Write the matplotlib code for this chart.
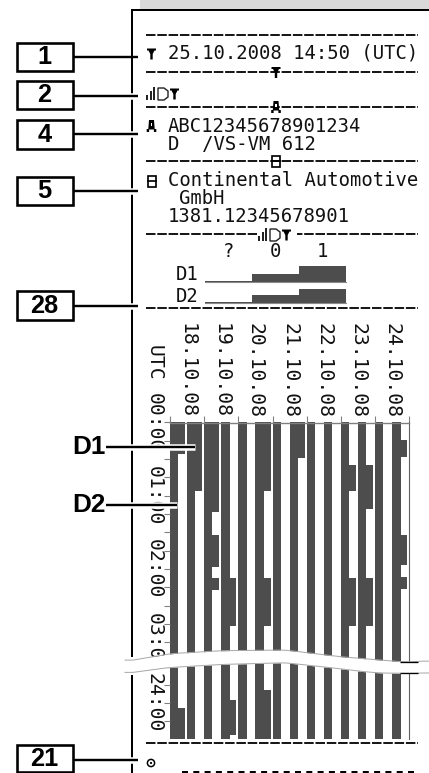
import numpy as np
import matplotlib
matplotlib.use("Agg")
import matplotlib.pyplot as plt
from matplotlib.patches import Rectangle, Polygon, Circle
from matplotlib.transforms import Bbox

plt.rcParams['lines.scale_dashes'] = False

# ---------- data ----------
DATE_LABELS = ["18.10.08", "19.10.08", "20.10.08", "21.10.08", "22.10.08", "23.10.08", "24.10.08"]
HOUR_TICKS_TOP = [0, 1, 2, 3]
HOUR_LABELS_TOP = ["00:00", "01:00", "02:00", "03:00"]
HOUR_TICKS_BOTTOM = [24]
HOUR_LABELS_BOTTOM = ["24:00"]

# intervals of the wide (level 1) state per column, two columns per day, in hours
WIDE_TOP = [
    [(0, 0.43)], [(0, 0.93)],
    [(0, 1.22), (1.53, 1.97), (2.12, 2.28)], [(2.12, 2.77)],
    [], [(0, 0.93), (2.12, 2.77)],
    [], [(0, 0.49)],
    [], [],
    [(0.58, 0.93), (2.12, 2.77)], [(0.58, 1.18), (2.12, 2.77)],
    [], [(0.24, 0.47), (1.53, 1.95), (2.11, 2.27)],
]
WIDE_BOTTOM = [
    [(24.06, 24.49)], [],
    [], [(23.95, 24.44)],
    [], [(23.82, 24.49)],
    [], [], [], [], [], [], [], [],
]
TOP_END_HOUR = 3.26
BOTTOM_START_HOUR = 23.43
BOTTOM_END_HOUR = 24.49

SUMMARY_CATEGORIES = ["?", "0", "1"]
SUMMARY_D1 = [0.12, 0.95, 2.0]
SUMMARY_D2 = [0.12, 0.9, 1.75]

DATE_LINE = "25.10.2008 14:50 (UTC)"
VEHICLE_ID = "ABC12345678901234"
VEHICLE_REG = "D  /VS-VM 612"
MAKER = "Continental Automotive"
MAKER_2 = "GmbH"
SERIAL = "1381.12345678901"

CALLOUTS = ["1", "2", "4", "5", "28", "21"]

# ---------- helpers ----------
W, H = 429, 773
BAR = "#4d4d4d"
MONO = "DejaVu Sans Mono"
fig = plt.figure(figsize=(W / 100, H / 100), dpi=100)
px = 0.72  # points per pixel


def rect(x0, y0, x1, y1):
    return [x0 / W, 1 - y1 / H, (x1 - x0) / W, (y1 - y0) / H]


ov = fig.add_axes([0, 0, 1, 1], zorder=5)
ov.set_xlim(0, W)
ov.set_ylim(H, 0)
ov.axis("off")
ov.patch.set_alpha(0)

# ---------- tachograph chart ----------
COL_NARROW, COL_WIDE = 0.243, 0.44


def draw_columns(ax, wide, start, end):
    for i, spans in enumerate(wide):
        x = i * 0.5
        ax.bar(x, end - start, COL_NARROW, bottom=start, align="edge", color=BAR, lw=0)
        for a, b in spans:
            ax.bar(x, b - a, COL_WIDE, bottom=a, align="edge", color=BAR, lw=0)
    ax.set_xlim(0, 7)
    ax.set_ylim(end, start)
    ax.patch.set_alpha(0)
    for s in ("top", "left", "bottom"):
        ax.spines[s].set_visible(False)
    ax.spines["right"].set_color("#606060")
    ax.spines["right"].set_linewidth(0.8)


Y0 = 422.5
DIV = 661.5
top = fig.add_axes(rect(170, Y0, 409.3, DIV))
draw_columns(top, WIDE_TOP, 0, TOP_END_HOUR)
bot = fig.add_axes(rect(170, DIV, 409.3, 739))
draw_columns(bot, WIDE_BOTTOM, BOTTOM_START_HOUR, BOTTOM_END_HOUR)
bot.set_xticks([])

top.spines["top"].set_visible(True)
top.spines["top"].set_color("#808080")
top.spines["top"].set_linewidth(1.0)
top.xaxis.tick_top()
top.set_xticks(np.arange(7) + 0.5)
top.set_xticklabels(DATE_LABELS, rotation=-90, family=MONO, fontsize=14.2, color="#111111")
top.tick_params(axis="x", which="major", length=0, pad=3.5)
top.set_xticks(np.arange(8), minor=True)
top.tick_params(axis="x", which="minor", length=5, color="#808080", width=0.8)

for ax, ticks, labels, lo, hi in ((top, HOUR_TICKS_TOP, HOUR_LABELS_TOP, 0, TOP_END_HOUR),
                                  (bot, HOUR_TICKS_BOTTOM, HOUR_LABELS_BOTTOM, BOTTOM_START_HOUR, BOTTOM_END_HOUR)):
    ax.set_yticks(ticks)
    ax.set_yticklabels(labels, rotation=-90, family=MONO, fontsize=14.2, color="#111111", va="center")
    ax.set_yticks(np.arange(np.ceil(lo * 4) / 4, hi, 0.25), minor=True)
    ax.tick_params(axis="y", which="both", length=4.5, width=0.8, color="#808080", pad=0)

# clip hour labels at the tear
for lab in top.get_yticklabels():
    lab.set_clip_on(True)
    lab.set_clip_box(Bbox([[0, H - 664], [W, H]]))
for lab in bot.get_yticklabels():
    lab.set_clip_on(True)
    lab.set_clip_box(Bbox([[0, 0], [W, H - 673]]))

ov.text(154.5, 362.5, "UTC", rotation=-90, family=MONO, fontsize=14.2, ha="center", va="center", color="#111111")

# ---------- daily summary bars ----------
for row, (vals, y0, y1, name, ytxt) in enumerate(((SUMMARY_D1, 262, 282, "D1", 275),
                                                  (SUMMARY_D2, 282.5, 302.5, "D2", 296))):
    a = fig.add_axes(rect(205, y0, 346, y1))
    a.bar(np.arange(3) + 0.5, vals, 1.0, color=[BAR, BAR, BAR], lw=0)
    a.set_xlim(0, 3)
    a.set_ylim(0, 2.5)
    a.patch.set_alpha(0)
    for s in ("top", "left", "right"):
        a.spines[s].set_visible(False)
    a.spines["bottom"].set_color("#8a8a8a")
    a.spines["bottom"].set_linewidth(0.8)
    a.set_yticks([])
    if row == 0:
        a.xaxis.tick_top()
        a.set_xticks(np.arange(3) + 0.5)
        a.set_xticklabels(SUMMARY_CATEGORIES, family=MONO, fontsize=13.6, color="#111111")
        a.tick_params(axis="x", length=0, pad=0.5)
    else:
        a.set_xticks([])
    ov.text(176, ytxt, name, family=MONO, fontsize=13.6, ha="left", va="center", color="#111111")

# ---------- header band and frame ----------
ov.add_patch(Rectangle((140, 0), W - 140, 9, fc="#d9d9d9", ec="none", zorder=0))
ov.plot([132, W], [10, 10], color="k", lw=2 * px, solid_capstyle="projecting", zorder=1)
ov.plot([132, 132], [10, 657], color="k", lw=2 * px, solid_capstyle="butt", zorder=1)
ov.plot([132, 132], [675, H], color="k", lw=2 * px, solid_capstyle="butt", zorder=1)

# ---------- printed text ----------
for x, y, s in ((168, 53, DATE_LINE), (168, 126, VEHICLE_ID), (168, 144.5, VEHICLE_REG),
                (168, 181, MAKER), (179, 198, MAKER_2), (168, 217, SERIAL)):
    ov.text(x, y, s, family=MONO, fontsize=13.6, ha="left", va="center", color="#111111")

# dashed separators
for y in (34.5, 71.5, 107, 161, 234, 307.5, 743):
    ov.plot([146, 418], [y, y], color="k", lw=1.8 * px,
            linestyle=(0, (9.5 * px, 1.8 * px)), dash_capstyle="butt", zorder=2)
ov.plot([182, 415], [772, 772], color="k", lw=2 * px,
        linestyle=(0, (6 * px, 5.3 * px)), dash_capstyle="butt", zorder=2)


# icons
def icon_card(cx, cy):
    ov.add_patch(Polygon([(cx - 4.5, cy - 5.5), (cx + 4.5, cy - 5.5), (cx + 4.5, cy - 3.5), (cx + 3, cy - 3.5),
                          (cx + 1.2, cy + 0), (cx + 1.2, cy + 5.5), (cx - 1.2, cy + 5.5), (cx - 1.2, cy + 0),
                          (cx - 3, cy - 3.5), (cx - 4.5, cy - 3.5)], fc="k", ec="none", zorder=3))


def icon_sig(x, cy):
    for dx, h in ((0, 5), (3.6, 9), (7.2, 13)):
        ov.add_patch(Rectangle((x + dx, cy + 6 - h), 1.9, h, fc="#222222", ec="none", zorder=3))
    ov.add_patch(Polygon([(x + 12, cy - 6), (x + 18, cy - 6), (x + 22, cy - 3), (x + 22, cy + 3), (x + 18, cy + 6), (x + 12, cy + 6)],
                         fc="none", ec="#222222", lw=1.4 * px, zorder=3))
    icon_card(x + 28.5, cy)


def icon_truck(cx, cy):
    ov.add_patch(Polygon([(cx - 2.5, cy - 6), (cx + 2.5, cy - 6), (cx + 3.2, cy + 3), (cx + 4.8, cy + 3), (cx + 4.8, cy + 6),
                          (cx + 2.4, cy + 6), (cx + 2.4, cy + 3.5), (cx - 2.4, cy + 3.5), (cx - 2.4, cy + 6),
                          (cx - 4.8, cy + 6), (cx - 4.8, cy + 3), (cx - 3.2, cy + 3)], fc="k", ec="none", zorder=3))
    ov.add_patch(Rectangle((cx - 0.9, cy - 3.5), 1.8, 3.5, fc="w", ec="none", zorder=3.1))


def icon_b(cx, cy):
    ov.add_patch(Rectangle((cx - 4, cy - 5.5), 8, 11, fc="none", ec="k", lw=1.7 * px, zorder=3))
    ov.plot([cx - 4, cx + 4], [cy, cy], color="k", lw=1.7 * px, zorder=3)


icon_card(151.5, 54)
icon_card(276, 72.5)
icon_sig(146, 94)
icon_truck(151.5, 126)
icon_truck(276, 107)
icon_b(151.5, 181)
icon_b(276, 161)
ov.add_patch(Rectangle((256.5, 226), 40, 16, fc="w", ec="none", zorder=2.5))
icon_sig(258, 235)
ov.add_patch(Circle((151, 763), 3.6, fc="none", ec="k", lw=1.5 * px, zorder=3))
ov.add_patch(Circle((151, 763), 1.1, fc="k", ec="none", zorder=3))

# ---------- tear in the paper ----------
upper_x = [125, 170, 220, 285, 340, 360, 380, 400, 418, 429]
upper_y = [661.5, 653.7, 650.7, 650, 656.7, 658.3, 660, 661.7, 661.7, 660]
lower_x = [125, 167, 220, 285, 340, 360, 380, 400, 418, 429]
lower_y = [673.5, 667.7, 664.5, 662.7, 668.7, 671.3, 673, 673.3, 673.3, 672.3]
xs = np.linspace(125, W, 300)
uy = np.convolve(np.interp(xs, upper_x, upper_y), np.ones(15) / 15, mode="same")
ly = np.convolve(np.interp(xs, lower_x, lower_y), np.ones(15) / 15, mode="same")
uy[:8], ly[:8] = uy[8], ly[8]
uy[-8:], ly[-8:] = uy[-9], ly[-9]
ov.fill_between(xs, uy, ly, color="w", lw=0, zorder=4)
ov.plot(xs, uy, color="#a8a8a8", lw=1 * px, zorder=4.1)
ov.plot(xs, ly, color="#a8a8a8", lw=1 * px, zorder=4.1)
ov.plot([400, 418], [661.7, 661.7], color="k", lw=1.3 * px, zorder=4.2, solid_capstyle="butt")
ov.plot([400, 418], [673.3, 673.3], color="k", lw=1.3 * px, zorder=4.2, solid_capstyle="butt")

# ---------- callouts ----------
boxes = ((43, 71, 56.5, False), (81, 109, 96, True), (120, 149, 134, True),
         (177, 205, 191, True), (291, 320, 305.5, True), (745, 772, 760, True))
for name, (y0, y1, yl, halo) in zip(CALLOUTS, boxes):
    ov.add_patch(Rectangle((16.5, y0), 56.5, y1 - y0, fc="w", ec="k", lw=2.6 * px, zorder=6))
    ov.text(44.5, (y0 + y1) / 2 + 0.5, name, family="Liberation Sans", weight="bold", fontsize=18.3,
            ha="center", va="center", color="k", zorder=7)
    if halo:
        ov.plot([73, 138], [yl, yl], color="w", lw=6.5 * px, zorder=5, solid_capstyle="butt")
    ov.plot([73, 138], [yl, yl], color="k", lw=2.4 * px, zorder=6, solid_capstyle="butt")

for name, yl, xe in (("D1", 447, 195), ("D2", 505, 176.5)):
    ov.text(72.5, yl - 0.5, name, family="Liberation Sans", weight="bold", fontsize=18.8,
            ha="left", va="center", color="k", zorder=7)
    ov.plot([106, xe], [yl, yl], color="w", lw=6.5 * px, zorder=5, solid_capstyle="butt")
    ov.plot([106, xe], [yl, yl], color="k", lw=2.4 * px, zorder=6, solid_capstyle="butt")

fig.savefig("out.png", dpi=100)
